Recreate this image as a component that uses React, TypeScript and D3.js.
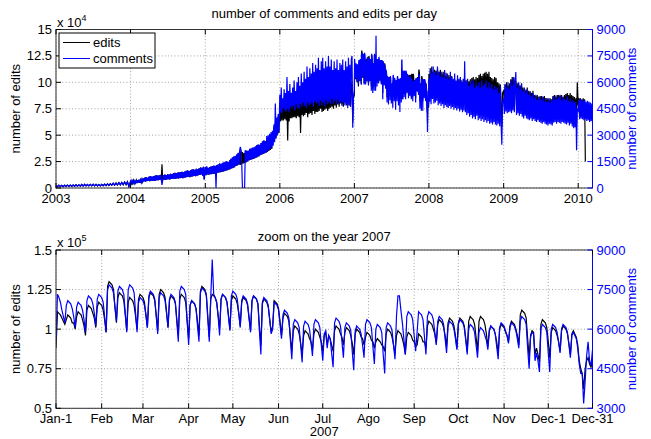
import React from "react";
import * as d3 from "d3";

// ---------- data (edits in thousands, comments raw) ----------
// weekly samples (step 7 days) for 2003
const edits2003 = [2.4,1.2,2.5,1.3, 2.5,1.3,2.6,1.4, 2.7,1.5,2.8,1.5,2.8, 1.6,3.0,1.7,3.0, 1.8,3.3,1.8,3.4,1.9, 3.3,1.9,3.4,2.0, 3.5,2.0,3.4,2.0, 3.3,2.0,3.4,2.1,3.6, 2.3,3.9,2.4,4.0, 2.6,4.4,2.7,4.6, 2.8,5.0,3.0,5.2,3.1, 5.6,3.2,5.8,1.5];
const comments2003 = [150,70,160,80, 150,80,160,85, 165,90,170,90,175, 95,185,100,180, 110,200,110,210,115, 200,115,210,120, 215,120,205,125, 200,120,210,130,220, 140,235,145,245, 160,270,165,280, 170,300,180,315,190, 340,195,360,60];

// half-weekly samples (step 3.5 days) for 2004-2006, 2008-2010
const edits2004 = [6.2,4.1,6.8,4.5,7.0,4.3,6.5,4.8,7.2, 4.6,7.5,5.0,7.9,4.9,7.6,5.3,8.2, 6.0,9.0,6.4,9.8,6.1,10.3,6.6,9.5,6.8, 10.8,6.5,11.2,7.0,10.6,6.8,11.0,6.7, 11.5,7.0,12.2,7.4,11.8,7.3,12.0,7.6,12.4, 7.8,22.5,7.5,12.3,8.0,12.6,7.7,12.2,8.1, 13.0,8.4,12.6,8.0,13.4,8.5,13.1,8.6, 13.8,8.9,14.3,8.7,14.0,9.1,14.6,9.0,14.8, 9.3,15.0,9.6,15.4,9.4,14.8,9.8,15.6, 10.0,16.2,10.4,16.6,10.6,16.0,10.3,17.0,10.8, 17.4,11.0,17.8,11.4,17.2,11.2,18.2,11.6,17.6, 12.2,18.6,12.4,19.4,12.8,19.0,11.5,20.0,8.0];
const comments2004 = [380,250,410,270,420,260,390,290,430, 280,450,300,470,290,460,320,490, 360,540,380,590,370,620,400,570,410, 650,390,670,420,640,410,660,400, 690,420,730,440,710,440,720,460,740, 470,180,450,740,480,760,460,730,490, 780,500,760,480,800,510,790,520, 830,530,860,520,840,550,880,540,890, 560,900,580,920,560,890,590,940, 600,970,620,1000,640,960,620,1020,650, 1040,660,1070,680,1030,670,1090,700,1060, 730,1120,740,1160,770,1140,690,1200,480];
const edits2005 = [19.5,12.2,20.0,12.8,18.8,12.5,19.6,13.0,20.2, 13.0,20.5,13.4,21.0,13.2,20.6,13.8,21.2, 14.2,22.0,14.6,23.0,15.0,22.4,15.2,23.5,15.5, 24.0,16.0,24.6,16.4,25.0,16.8,24.4,17.2, 26.0,17.8,27.5,18.4,28.6,19.0,29.5,19.6,30.0, 20.8,31.5,21.4,33.0,22.0,34.5,21.8,35.5,22.6, 34.0,23.0,33.0,23.6,34.8,24.2,35.5,25.0, 35.0,26.0,36.5,26.6,37.2,27.0,37.8,27.4,38.0, 28.0,39.0,28.6,40.2,29.2,41.0,29.8,40.5, 31.0,42.5,31.6,44.0,32.2,45.0,32.8,44.2,33.4, 46.0,34.0,47.5,35.0,49.0,36.0,50.5,37.0,51.5, 44.0,58.0,46.0,62.0,48.0,66.0,50.0,68.0,52.0];
const comments2005 = [1200,730,1230,770,1140,750,1190,790,1220, 800,1250,820,1280,810,1260,0,1300, 860,1340,880,1400,900,1370,920,1430,940, 1460,970,1500,990,1530,1010,1480,1040, 1580,1080,1670,1110,1740,1150,1800,1180,1830, 1250,1920,1290,2000,1330,2100,2340,2150,1360, 0,0,0,0,2150,1460,2100,1500, 2130,1560,2220,1600,2260,1620,2300,1650,2310, 1690,2370,1720,2440,1760,2480,1800,2450, 1870,2560,1900,2650,1940,2710,1980,2660,2010, 2950,2080,3000,2150,3080,2220,3180,2300,3250, 2400,3600,2600,4800,2800,4000,3000,4200,3200];
const edits2006 = [78,63,80,64,82,64,79,65,81, 64,79,45,80,63,78,66,80, 66,81,67,82,67,80,66,82,68, 83,67,85,52,84,69,85,68, 86,69,84,71,87,67,85,70,86, 71,88,69,87,73,86,70,89,72, 89,72,91,73,87,75,90,72, 92,73,90,74,93,75,91,73,92, 75,94,76,95,77,92,75,96, 78,95,76,98,79,94,77,97,80, 97,79,101,77,96,81,100,78,99, 81,101,78,103,79,99,98,62,85];
const comments2006 = [5300,4300,5700,4250,5100,4550,5600,4400,5400, 4350,6300,4500,5500,4300,5900,4650,5400, 4500,5700,4650,6100,4400,5500,4750,6000,4550, 6300,4500,5800,4750,6500,4600,6000,4850, 6600,4650,6200,4550,6900,4800,6300,4700,6800, 4750,6500,4850,7100,4600,6600,4900,7000,4800, 6800,4850,7400,4650,6700,4950,7200,4700, 7400,4850,6800,4650,7200,4950,6900,4750,7500, 4850,6900,4750,7300,5050,6700,4800,7200, 4950,6800,4750,7300,5000,6700,4800,7100,4900, 7000,4650,7300,4850,6700,4700,7200,4800,6900, 4550,7400,4700,7000,4600,7300,7500,3420,5200];
const edits2008 = [108,88,113,87,115,89,110,88,112, 88,111,87,113,89,110,88,112, 85,108,84,110,86,107,83,109,85, 106,83,107,82,105,84,106,83, 102,81,103,80,101,82,103,80,102, 81,101,80,102,82,100,81,102,80, 102,79,103,78,101,80,103,79, 104,79,105,78,103,80,105,79,104, 81,107,80,108,82,106,81,108, 81,109,80,110,82,108,81,110,82, 105,79,104,78,103,80,105,79,104, 78,100,77,99,79,98,78,58,90];
const comments2008 = [6200,4900,6800,4750,6500,5050,6900,4800,6600, 4850,6400,4950,6900,4700,6600,4800,6300, 4650,6600,4750,6300,4550,6700,4700,6200,4600, 6500,4550,6200,4650,6600,4500,6300,4600, 6200,4450,6500,4550,6100,4400,6400,4500,6200, 4350,6300,4450,6000,4300,6200,4400,7200,4300, 6000,4150,6200,4250,5800,4050,6100,4150, 5900,3950,6100,4050,5700,3900,6000,4100,5800, 3850,6000,3950,5700,3800,6100,3900,5800, 3750,5900,3850,6100,3700,5700,3800,6000,3650, 5700,3700,5900,3600,5600,3750,5800,3600,5600, 3550,5700,3650,5400,3500,5800,3600,2450,4800];
const edits2009 = [92,77,98,78,100,79,97,78,99, 81,103,80,105,82,102,81,104, 100,78,99,77,98,79,97,77,99, 75,95,74,94,76,93,74,95, 73,92,72,91,74,90,72,92,73, 88,71,87,70,88,72,86,70,87, 69,87,68,86,70,87,69,85, 68,85,67,84,69,85,67,84,68, 87,71,88,70,86,72,88,71, 88,71,87,70,88,72,86,71,88, 72,89,71,90,73,88,71,90,72, 88,70,87,68,86,69,85,62,100];
const comments2009 = [5100,4200,5900,4350,5700,4250,6000,4300,5600, 4350,6100,4250,5800,4400,6300,4300,5900, 6580,4150,5700,4250,6000,4100,5600,4200,5900, 4050,5500,3950,5700,4100,5400,3950,5600, 3900,5300,3850,5500,3950,5200,3800,5400,3900, 5100,3800,5300,3750,5000,3850,5200,3750,5100, 3700,5000,3650,5200,3750,4900,3650,5100, 3600,4900,3550,5100,3650,4850,3600,5000,3550, 5200,3700,5000,3750,5250,3650,5050,3750, 5150,3700,5300,3650,5000,3750,5200,3700,5050, 3650,5000,3600,5200,3700,4950,3550,5100,3650, 4900,3500,5000,3400,4850,3450,4900,2150,4500];
const edits2010 = [78,85,70,85,71,84,70,85,71,84,25];
const comments2010 = [4400,5000,3900,5100,3950,5000,3900,4950,3850,5000,3900,4900,3800,4950,3850,4900,3750,4850,3800,4800,3700];

// daily values for 2007 (Mon Jan 1 .. Mon Dec 31), one row per week
const edits2007 = [
  88,111,110,109,107,105,103, 106,109,108,107,104,104,100, 108,111,110,109,106,102,96, 112,115,114,113,110,107,101,
  114,117,116,115,112,106,98, 127,130,129,128,125,114,104, 120,123,122,121,118,109,99, 117,120,119,118,115,108,100,
  119,122,121,120,117,109,101, 120,123,122,121,118,109,99, 122,125,124,123,120,111,101, 118,121,120,119,116,106,96,
  119,122,121,120,117,105,94, 115,118,117,116,113,105,96, 124,127,126,125,122,108,95, 119,122,121,120,117,109,100,
  119,122,121,120,117,109,100, 118,121,120,119,116,110,102, 117,120,119,118,115,107,99, 118,121,120,119,116,102,90,
  116,119,118,117,114,106,98, 102,118,117,116,113,105,96, 107,110,109,108,105,96,86, 99,102,101,100,97,91,84,
  96,99,98,97,94,92,87, 97,100,99,98,95,92,86, 96,98,90,96,94,90,86, 99,102,101,100,97,95,90,
  98,101,100,99,96,91,84, 97,100,99,98,95,94,90, 95,98,97,96,93,92,88, 92,94,93,92,90,89,86,
  97,100,99,98,95,90,84, 96,99,98,97,94,90,84, 95,98,97,96,93,92,89, 90,97,96,95,92,92,88,
  102,105,104,103,100,97,91, 103,106,105,104,101,96,89, 104,107,106,105,102,96,88, 104,107,106,105,102,94,86,
  105,108,107,106,103,95,86, 105,108,107,106,103,97,89, 99,102,101,100,97,92,85, 100,103,102,101,98,96,92,
  102,105,104,103,100,96,90, 109,112,111,110,107,94,82, 96,99,98,84,88,84,79, 103,106,105,104,101,92,82,
  98,101,100,99,96,92,86, 99,102,101,100,97,91,84, 97,99,97,95,90,80,75, 72,62,75,80,82,78,76,
  80
];
const comments2007 = [
  5580,7320,7200,7020,6720,6480,6240, 6900,7080,7020,6960,6780,6480,6060, 6840,7020,6960,6900,6720,6360,5880, 7080,7260,7200,7140,6960,6600,6120,
  7140,7320,7260,7200,7020,6480,5880, 7500,7680,7620,7560,7380,6840,6300, 7440,7620,7560,7500,7320,6600,5880, 7500,7680,7620,7560,7380,6600,5880,
  7020,7200,7140,7080,6900,6540,6060, 7260,7440,7380,7320,7140,6480,5820, 7200,7380,7320,7260,7080,6600,6060, 7140,7320,7260,7200,7020,6240,5520,
  7440,7620,7560,7500,7320,6300,5400, 6900,7080,7020,6960,6780,6120,5520, 7380,7560,7500,7440,7260,6360,5520, 7200,8640,7320,7200,7020,6480,5760,
  7140,7320,7260,7200,7020,6480,5940, 7260,7440,7380,7320,7140,6600,6060, 7080,7260,7200,7140,6960,6420,5880, 7080,7260,7200,7140,6960,5940,5040,
  7020,7200,7140,7080,6900,6360,5820, 6000,7020,6960,6900,6720,6180,5640, 6540,6720,6660,6600,6420,5580,4860, 6180,6360,6300,6240,6060,5400,4740,
  6120,6300,6240,6180,6000,5520,4980, 6180,6360,6300,6240,6060,5400,4800, 5820,5940,5280,5760,5640,5100,4560, 6240,6420,6360,6300,6120,5520,4920,
  6060,6240,6180,6120,5940,5160,4440, 5940,6120,6060,6000,5820,5400,4920, 6180,6360,6300,6240,6060,5340,4680, 6000,6180,6120,6060,5880,5040,4320,
  6060,6240,6180,6120,5940,5400,4860, 6480,7260,7260,6720,6240,5640,5040, 6480,6660,6600,6540,6360,5760,5160, 5880,6660,6600,6540,6360,5700,5040,
  6480,6660,6600,6540,6360,5880,5400, 6300,6480,6420,6360,6180,5640,5100, 6120,6300,6240,6180,6000,5640,5220, 6180,6360,6300,6240,6060,5580,5040,
  6000,6180,6120,6060,5880,5400,4920, 5880,6060,6000,5940,5760,5580,5220, 5940,6120,6060,6000,5820,5340,4860, 6060,6240,6180,6120,5940,5760,5460,
  6060,6240,6180,6120,5940,5640,5280, 6300,6480,6420,6360,6180,5280,4500, 5700,5880,5820,4800,5100,4800,4380, 6000,6180,6120,6060,5880,5100,4380,
  6000,6180,6120,6060,5880,5520,5100, 6000,6180,6120,6060,5880,5400,4920, 5760,5880,5760,5640,5280,4680,4320, 4320,3180,4020,4980,5520,4800,4620,
  5220
];

// axes
const yearTicks = [2003, 2004, 2005, 2006, 2007, 2008, 2009, 2010];
const topEditTicks = [0, 25000, 50000, 75000, 100000, 125000, 150000];
const topEditLabels = ["0", "2.5", "5", "7.5", "10", "12.5", "15"];
const topCommentTicks = [0, 1500, 3000, 4500, 6000, 7500, 9000];
const botEditTicks = [50000, 75000, 100000, 125000, 150000];
const botEditLabels = ["0.5", "0.75", "1", "1.25", "1.5"];
const botCommentTicks = [3000, 4500, 6000, 7500, 9000];
const monthTickDays = [0, 31, 59, 90, 120, 151, 181, 212, 243, 273, 304, 334, 364];
const monthTickLabels = ["Jan-1", "Feb", "Mar", "Apr", "May", "Jun", "Jul", "Ago", "Sep", "Oct", "Nov", "Dec-1", "Dec-31"];

const FONT = "'Liberation Sans', Arial, Helvetica, sans-serif";
const BLUE = "#0000ff";
const DAY = 864e5;

type Pt = { t: Date; v: number };

function seg(year: number, step: number, vals: number[], mult: number): Pt[] {
  const s = new Date(year, 0, 1).getTime();
  return vals.map((v, i) => ({ t: new Date(s + i * step * DAY), v: v * mult }));
}

const editsAll: Pt[] = [
  ...seg(2003, 7, edits2003, 1000), ...seg(2004, 3.5, edits2004, 1000), ...seg(2005, 3.5, edits2005, 1000),
  ...seg(2006, 3.5, edits2006, 1000), ...seg(2007, 1, edits2007, 1000),
  ...seg(2008, 3.5, edits2008, 1000), ...seg(2009, 3.5, edits2009, 1000), ...seg(2010, 3.5, edits2010, 1000),
];
const commentsAll: Pt[] = [
  ...seg(2003, 7, comments2003, 1), ...seg(2004, 3.5, comments2004, 1), ...seg(2005, 3.5, comments2005, 1),
  ...seg(2006, 3.5, comments2006, 1), ...seg(2007, 1, comments2007, 1),
  ...seg(2008, 3.5, comments2008, 1), ...seg(2009, 3.5, comments2009, 1), ...seg(2010, 3.5, comments2010, 1),
];

const L = 56, R = 592.5;
const T1 = 29.5, B1 = 188;
const T2 = 250, B2 = 408.3;
const TICK = 5;

function Grid({ top, bottom, xs, leftTicks, yL }: any) {
  return (
    <g>
      {xs.map((x: number, i: number) => (
        <line key={"gx" + i} x1={x} x2={x} y1={top} y2={bottom} stroke="#8c8c8c" strokeWidth={0.8} strokeDasharray="1 2.2" />
      ))}
      {leftTicks.map((v: number, i: number) => (
        <line key={"gy" + i} x1={L} x2={R} y1={yL(v)} y2={yL(v)} stroke="#8c8c8c" strokeWidth={0.8} strokeDasharray="1 2.2" />
      ))}
    </g>
  );
}

function Axes({ top, bottom, xs, xLabels, xLabelY, leftTicks, leftLabels, rightTicks, yL, yR, exp }: any) {
  return (
    <g fontFamily={FONT} fontSize={13}>
      <rect x={L} y={top} width={R - L} height={bottom - top} fill="none" stroke="#333" strokeWidth={1} />
      <line x1={R} x2={R} y1={top} y2={bottom} stroke={BLUE} strokeWidth={1} />
      {xs.map((x: number, i: number) => (
        <g key={"xt" + i}>
          <line x1={x} x2={x} y1={bottom} y2={bottom - TICK} stroke="#000" />
          <line x1={x} x2={x} y1={top} y2={top + TICK} stroke="#000" />
          <text x={x} y={xLabelY} textAnchor="middle" fill="#000">{xLabels[i]}</text>
        </g>
      ))}
      {leftTicks.map((v: number, i: number) => (
        <g key={"yl" + i}>
          <line x1={L} x2={L + TICK} y1={yL(v)} y2={yL(v)} stroke="#000" />
          <text x={L - 4} y={yL(v)} dy="0.35em" textAnchor="end" fill="#000">{leftLabels[i]}</text>
        </g>
      ))}
      {rightTicks.map((v: number, i: number) => (
        <g key={"yr" + i}>
          <line x1={R} x2={R - TICK} y1={yR(v)} y2={yR(v)} stroke={BLUE} />
          <text x={R + 4} y={yR(v)} dy="0.35em" textAnchor="start" fill={BLUE}>{String(v)}</text>
        </g>
      ))}
      <text x={L + 1} y={top - 3} fill="#000">
        x 10<tspan dy={-6} fontSize={9}>{exp}</tspan>
      </text>
    </g>
  );
}

export default function App() {
  // top panel scales
  const x1 = d3.scaleTime().domain([new Date(2003, 0, 1), new Date(2010, 2, 12)]).range([L, R]);
  const yE1 = d3.scaleLinear().domain([0, 150000]).range([B1, T1]);
  const yC1 = d3.scaleLinear().domain([0, 9000]).range([B1, T1]);
  const lineE1 = d3.line<Pt>().x((d) => x1(d.t)).y((d) => yE1(d.v));
  const lineC1 = d3.line<Pt>().x((d) => x1(d.t)).y((d) => yC1(d.v));
  const xs1 = yearTicks.map((y) => x1(new Date(y, 0, 1)));

  // bottom panel scales
  const x2 = d3.scaleLinear().domain([0, 364]).range([L, R]);
  const yE2 = d3.scaleLinear().domain([50000, 150000]).range([B2, T2]);
  const yC2 = d3.scaleLinear().domain([3000, 9000]).range([B2, T2]);
  const lineE2 = d3.line<number>().x((_, i) => x2(i)).y((d) => yE2(d * 1000));
  const lineC2 = d3.line<number>().x((_, i) => x2(i)).y((d) => yC2(d));
  const xs2 = monthTickDays.map((d) => x2(d));

  const mid = (L + R) / 2;

  return (
    <svg width={651} height={439} style={{ position: "absolute", left: 0, top: 0, background: "#fff" }}>
      <rect width={651} height={439} fill="#fff" />
      <defs>
        <clipPath id="c1"><rect x={L} y={T1} width={R - L} height={B1 - T1} /></clipPath>
        <clipPath id="c2"><rect x={L} y={T2} width={R - L} height={B2 - T2} /></clipPath>
      </defs>

      {/* ---------- top panel ---------- */}
      <Grid top={T1} bottom={B1} xs={xs1} leftTicks={topEditTicks} yL={yE1} />
      <g clipPath="url(#c1)">
        <path d={lineE1(editsAll) || ""} fill="none" stroke="#000" strokeWidth={1.2} />
        <path d={lineC1(commentsAll) || ""} fill="none" stroke={BLUE} strokeWidth={1.2} />
      </g>
      <Axes top={T1} bottom={B1} xs={xs1} xLabels={yearTicks.map(String)} xLabelY={202.5}
        leftTicks={topEditTicks} leftLabels={topEditLabels} rightTicks={topCommentTicks} yL={yE1} yR={yC1} exp="4" />
      <g fontFamily={FONT} fontSize={13}>
        <text x={mid} y={18} textAnchor="middle">number of comments and edits per day</text>
        <text transform={`translate(20,${(T1 + B1) / 2}) rotate(-90)`} textAnchor="middle">number of edits</text>
        <text transform={`translate(636,${(T1 + B1) / 2}) rotate(-90)`} textAnchor="middle" fill={BLUE}>number of comments</text>
        {/* legend */}
        <rect x={59} y={33} width={96} height={35} fill="#fff" stroke="#000" strokeWidth={1} />
        <line x1={63} x2={90} y1={42.5} y2={42.5} stroke="#000" />
        <text x={93} y={47}>edits</text>
        <line x1={63} x2={90} y1={58.5} y2={58.5} stroke={BLUE} />
        <text x={93} y={63}>comments</text>
      </g>

      {/* ---------- bottom panel ---------- */}
      <Grid top={T2} bottom={B2} xs={xs2} leftTicks={botEditTicks} yL={yE2} />
      <g clipPath="url(#c2)">
        <path d={lineE2(edits2007) || ""} fill="none" stroke="#000" strokeWidth={1.2} />
        <path d={lineC2(comments2007) || ""} fill="none" stroke={BLUE} strokeWidth={1.2} />
      </g>
      <Axes top={T2} bottom={B2} xs={xs2} xLabels={monthTickLabels} xLabelY={422.5}
        leftTicks={botEditTicks} leftLabels={botEditLabels} rightTicks={botCommentTicks} yL={yE2} yR={yC2} exp="5" />
      <g fontFamily={FONT} fontSize={13}>
        <text x={mid} y={241} textAnchor="middle">zoom on the year 2007</text>
        <text x={mid} y={436} textAnchor="middle">2007</text>
        <text transform={`translate(20,${(T2 + B2) / 2}) rotate(-90)`} textAnchor="middle">number of edits</text>
        <text transform={`translate(636,${(T2 + B2) / 2}) rotate(-90)`} textAnchor="middle" fill={BLUE}>number of comments</text>
      </g>
    </svg>
  );
}
